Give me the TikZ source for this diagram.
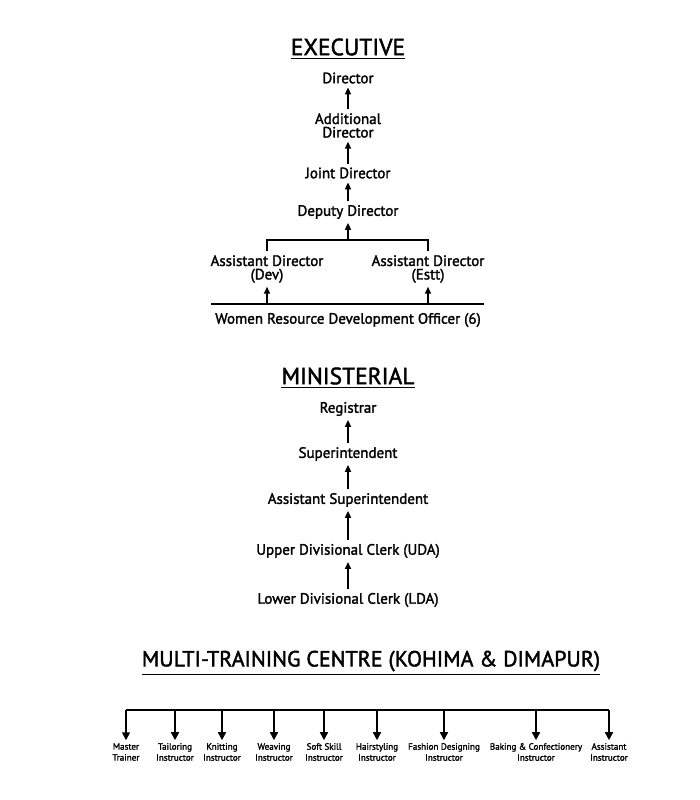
\documentclass[tikz,border=0pt]{standalone}
\usepackage{fontspec}
\setmainfont{PT Sans}
\newfontfamily\semibold{PT Sans}[FakeBold=1.8]
\usetikzlibrary{arrows.meta}
\begin{document}
\begin{tikzpicture}[x=1pt,y=-1pt,
    post/.style={font=\semibold\fontsize{15}{13.5}\selectfont, align=center, inner sep=0pt, outer ysep=4pt},
    head/.style={font=\semibold\fontsize{23.5}{24}\selectfont, inner sep=0pt},
    job/.style={font=\semibold\fontsize{9.1}{11}\selectfont, align=center, inner sep=0pt, outer ysep=3pt},
    up/.style={-{Triangle[width=6pt,length=7pt]}, line width=1.6pt},
    down/.style={-{Triangle[width=8pt,length=8pt]}, line width=1.6pt},
    bar/.style={line width=1.7pt}]
    \useasboundingbox (0,0) rectangle (700,800);

    % Executive
    \node[head] (exec) at (348,47) {EXECUTIVE};
    \draw[line width=1.2pt] ([yshift=-3pt]exec.south west) -- ([yshift=-3pt]exec.south east);
    \node[post] (dir) at (348,78) {Director};
    \node[post] (adir) at (348,125.5) {Additional\\Director};
    \node[post] (jdir) at (348,173) {Joint Director};
    \node[post] (ddir) at (348,212) {Deputy Director};
    \node[post] (adev) at (267,269) {Assistant Director\\(Dev)};
    \node[post] (aest) at (428,269) {Assistant Director\\(Estt)};
    \node[post] (wrdo) at (348,320) {Women Resource Development Officer (6)};
    \draw[up] (adir) -- (dir);
    \draw[up] (jdir) -- (adir);
    \draw[up] (ddir) -- (jdir);
    \coordinate (barM) at (348,240);
    \draw[bar] (adev.north) -- (adev.north |- barM) -- (aest.north |- barM) -- (aest.north);
    \draw[up] (barM) -- (ddir);
    \coordinate (baseL) at (211,304);
    \coordinate (baseR) at (484,304);
    \draw[line width=2.4pt] (baseL) -- (baseR);
    \draw[up] (adev.center |- baseL) -- (adev);
    \draw[up] (aest.center |- baseL) -- (aest);

    % Ministerial
    \node[head] (mini) at (348,376) {MINISTERIAL};
    \draw[line width=1.2pt] ([yshift=-3pt]mini.south west) -- ([yshift=-3pt]mini.south east);
    \node[post] (reg) at (348,409) {Registrar};
    \node[post] (supt) at (348,454) {Superintendent};
    \node[post] (asupt) at (348,500) {Assistant Superintendent};
    \node[post] (uda) at (348,551) {Upper Divisional Clerk (UDA)};
    \node[post] (lda) at (348,600) {Lower Divisional Clerk (LDA)};
    \draw[up] (supt) -- (reg);
    \draw[up] (asupt) -- (supt);
    \draw[up] (uda) -- (asupt);
    \draw[up] (lda) -- (uda);

    % Multi-Training Centre
    \node[head, font=\semibold\fontsize{22}{24}\selectfont] (mtc) at (371,661) {MULTI-TRAINING CENTRE (KOHIMA \& DIMAPUR)};
    \draw[line width=1.2pt] ([yshift=-3pt]mtc.south west) -- ([yshift=-3pt]mtc.south east);
    \coordinate (top) at (126,710);
    \foreach \x/\name/\txt in {126/mt/Master\\Trainer, 175/ti/Tailoring\\Instructor,
        222/ki/Knitting\\Instructor, 274/wi/Weaving\\Instructor,
        324/ssi/Soft Skill\\Instructor, 377/hi/Hairstyling\\Instructor,
        444/fdi/Fashion Designing\\Instructor, 536/bci/Baking \& Confectionery\\Instructor,
        609/ai/Assistant\\Instructor} {
        \node[job] (\name) at (\x,752) {\txt};
        \draw[down] (\name.north |- top) -- (\name);
    }
    \draw[bar] (mt.north |- top) -- (ai.north |- top);
\end{tikzpicture}
\end{document}
